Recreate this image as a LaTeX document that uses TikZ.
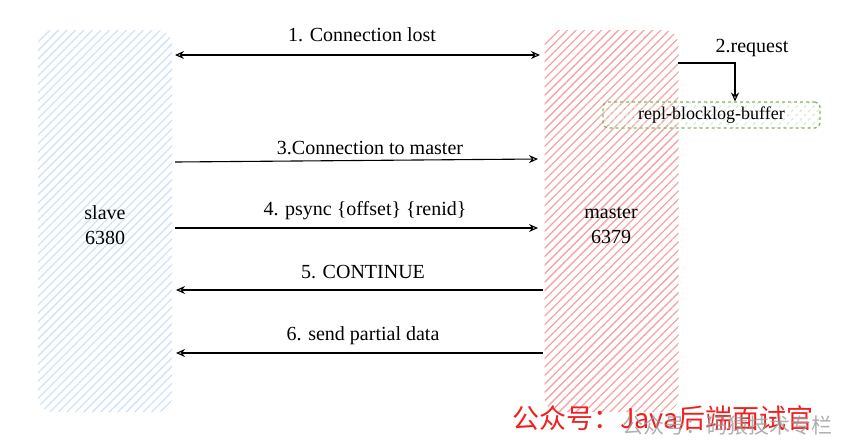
\documentclass[tikz,border=0pt]{standalone}
\usepackage{fontspec}
\setmainfont{Liberation Serif}
\newfontfamily\cjk{Noto Sans CJK SC}
\usetikzlibrary{patterns.meta,arrows.meta}
\definecolor{blueh}{HTML}{CFE2F7}
\definecolor{redh}{HTML}{F7A3A3}
\definecolor{greend}{HTML}{82B366}
\definecolor{greenh}{HTML}{D5E8D4}
\definecolor{wmred}{HTML}{F02020}
\definecolor{wmgrey}{HTML}{9A9A9A}
\begin{document}
\begin{tikzpicture}[x=1pt,y=-1pt]
\useasboundingbox (0,0) rectangle (850,445);
\tikzset{
 hbox/.style={rounded corners=15pt, minimum width=134pt, minimum height=382pt, inner sep=0pt},
 lbl/.style={font=\fontsize{20}{23}\selectfont, inner sep=0pt},
 arr/.style={line width=1.1pt, -{Stealth[open,length=9pt,width=8pt]}},
 darr/.style={line width=1.1pt, {Stealth[open,length=9pt,width=8pt]}-{Stealth[open,length=9pt,width=8pt]}},
}
% boxes
\node[hbox, pattern={Lines[angle=45,distance=6pt,line width=1.3pt]}, pattern color=blueh] (slave) at (105,221) {};
\node[hbox, pattern={Lines[angle=45,distance=6pt,line width=1.3pt]}, pattern color=redh] (master) at (611.5,221) {};
\node[lbl, align=center] (slavelbl) at (105,225) {slave\\[2pt]6380};
\node[lbl, align=center] (masterlbl) at (611,225) {master\\[2pt]6379};
\node[minimum width=217pt, minimum height=26pt, rounded corners=5pt, dashed, draw=greend, line width=1.3pt,
      pattern={Lines[angle=45,distance=6pt,line width=1pt]}, pattern color=greenh,
      font=\fontsize{18}{20}\selectfont, inner sep=0pt] (buf) at (711.5,115) {repl-blocklog-buffer};
% coordinates
\coordinate (a1l) at (175,55);  \coordinate (a1r) at (540,55);
\coordinate (a3l) at (175,162); \coordinate (a3r) at (538,159);
\coordinate (a4l) at (175,228); \coordinate (a4r) at (538,228);
\coordinate (a5r) at (543,290); \coordinate (a5l) at (176,290);
\coordinate (a6r) at (543,353); \coordinate (a6l) at (176,353);
\coordinate (a2s) at (678,63);
% arrows
\draw[darr] (a1l) -- (a1r);
\draw[arr] (a3l) -- (a3r);
\draw[arr] (a4l) -- (a4r);
\draw[arr] (a5r) -- (a5l);
\draw[arr] (a6r) -- (a6l);
\draw[arr] (a2s) -| (buf.north -| 735,0);
% labels
\node[lbl] (l1) at (362,35) {1. Connection lost};
\node[lbl] (l2) at (752,48) {2.request};
\node[lbl] (l3) at (370,148) {3.Connection to master};
\node[lbl] (l4) at (365,211) {4. psync \{offset\} \{renid\}};
\node[lbl] (l5) at (363,272) {5. CONTINUE};
\node[lbl] (l6) at (363,336) {6. send partial data};
% watermark
\node[font=\cjk\fontsize{27}{30}\selectfont, text=wmred, inner sep=0pt] (wm1) at (663,418) {公众号：Java后端面试官};
\node[font=\cjk\fontsize{21}{24}\selectfont, text=wmgrey, opacity=0.8, inner sep=0pt] (wm2) at (727,426) {公众号：码猿技术专栏};
\end{tikzpicture}
\end{document}
